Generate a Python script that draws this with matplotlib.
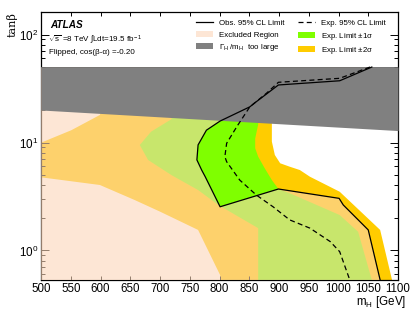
import matplotlib
matplotlib.use("Agg")
import matplotlib.pyplot as plt
from matplotlib.lines import Line2D
from matplotlib.patches import Patch
from matplotlib.ticker import LogLocator, FixedLocator

plt.rcParams['font.family'] = ['Liberation Sans', 'DejaVu Sans']
plt.rcParams['mathtext.fontset'] = 'custom'
plt.rcParams['mathtext.rm'] = 'Liberation Sans'
plt.rcParams['mathtext.it'] = 'Liberation Sans:italic'
plt.rcParams['mathtext.bf'] = 'Liberation Sans:bold'

# ---------------- data ----------------
obs_mh = [1056, 1002, 899, 862, 851, 801, 778, 764, 762, 770, 776, 801, 899, 1001, 1008, 1050, 1070]
obs_tb = [50, 37.3, 34.1, 23.9, 21.4, 15.8, 13.0, 9.5, 6.9, 5.56, 4.82, 2.54, 3.71, 3.04, 2.64, 1.55, 0.533]

exp_mh = [1053, 1002, 899, 879, 851, 829, 812, 809, 812, 834, 862, 890, 918, 952, 986, 1002, 1019]
exp_tb = [50, 39.3, 36.1, 28.6, 21.4, 14.0, 9.83, 7.39, 6.64, 4.49, 3.26, 2.54, 1.92, 1.61, 1.21, 0.975, 0.533]

band2_mh = [500, 551, 599, 610, 888, 888, 888, 893, 902, 918, 935, 952, 1002, 1070, 1090,
            802, 801, 764, 700, 657, 599, 500]
band2_tb = [9.96, 13.0, 18.0, 30, 30, 14.7, 10.2, 7.66, 6.42, 5.97, 5.56, 4.82, 3.50, 1.55, 0.533,
            0.533, 0.593, 1.55, 2.29, 2.94, 4.04, 4.76]

band1_mh = [719, 730, 865, 865, 860, 860, 865, 876, 888, 899, 918, 1002, 1033, 1056,
            865, 865, 798, 764, 719, 680, 666, 685]
band1_tb = [16.4, 30, 30, 14.7, 10.9, 8.84, 7.39, 5.77, 4.49, 3.71, 3.39, 2.13, 1.49, 0.533,
            0.533, 1.61, 2.64, 3.63, 5.0, 6.89, 9.48, 12.6]

gray_mh = [500, 1100]
gray_lo = [20.0, 12.9]
gray_hi = [50, 50]

x_ticks = list(range(500, 1101, 50))

excl_left_mh = [500, 500]
excl_left_tb = [0.533, 50]

# ---------------- style ----------------
c_yellow = '#FFCC00'
c_green = '#7FFF00'
c_excl = '#FCD6B9'
a_excl = 0.59
c_gray = '#808080'

fig = plt.figure(figsize=(4.15, 3.12), dpi=100)
ax = fig.add_axes([41/415, 32/312, 357/415, 267.7/312])

ax.fill(band2_mh, band2_tb, color=c_yellow, lw=0, zorder=1)
ax.fill(band1_mh, band1_tb, color=c_green, lw=0, zorder=2)
ax.fill(excl_left_mh + obs_mh, excl_left_tb + obs_tb, color=c_excl, alpha=a_excl, lw=0, zorder=3)
ax.fill_between(gray_mh, gray_lo, gray_hi, color=c_gray, lw=0, zorder=4)
ax.plot(gray_mh, gray_hi, color='#6a6a6a', lw=0.6, zorder=4)
ax.plot(obs_mh, obs_tb, color='black', lw=0.9, zorder=6)
ax.plot(exp_mh, exp_tb, color='black', lw=0.9, ls=(0, (4, 2.6)), zorder=6)

ax.set_yscale('log')
ax.set_xlim(500, 1100)
ax.set_ylim(0.533, 160.6)
ax.xaxis.set_major_locator(FixedLocator(x_ticks))
ax.set_xticklabels([str(v) for v in x_ticks])
ax.yaxis.set_major_locator(LogLocator(base=10))
ax.yaxis.set_minor_locator(LogLocator(base=10, subs=range(2, 10)))
ax.tick_params(axis='both', which='both', direction='in', top=True, right=True, width=0.7)
ax.tick_params(axis='x', which='major', length=3, labelsize=8.3, pad=2)
ax.tick_params(axis='y', which='major', length=5.5, labelsize=8.4, pad=2)
ax.tick_params(axis='y', which='minor', length=2.8)
ax.yaxis.set_minor_formatter(matplotlib.ticker.NullFormatter())
for s in ax.spines.values():
    s.set_linewidth(0.9)

# labels
fig.text(406/415, 1 - 301.5/312, r'm$_{\rm H}$ [GeV]', ha='right', va='center', fontsize=8.4)
fig.text(12/415, 1 - 25/312, 'tanβ', rotation=90, ha='center', va='center', fontsize=8,
         family=['DejaVu Serif', 'DejaVu Sans'])

fig.text(50/415, 1 - 25/312, 'ATLAS', fontsize=7.2, fontweight='bold', style='italic',
         ha='left', va='center')
fig.text(48/415, 1 - 40/312, r'$\sqrt{\rm s}$ =8 TeV $\int$Ldt=19.5 fb$^{\rm -1}$', fontsize=5.8,
         ha='left', va='center')
fig.text(49/415, 1 - 52.5/312, 'Flipped, cos(β-α) =-0.20', fontsize=5.8, ha='left', va='center')

handles = [
    Line2D([], [], color='black', lw=0.9),
    Patch(facecolor=c_excl, alpha=a_excl, lw=0),
    Patch(facecolor=c_gray, lw=0),
    Line2D([], [], color='black', lw=0.9, ls=(0, (4, 2.6))),
    Patch(facecolor=c_green, lw=0),
    Patch(facecolor=c_yellow, lw=0),
]
labels = [
    'Obs. 95% CL Limit',
    'Excluded Region',
    r'$\Gamma_{\rm H}$ /m$_{\rm H}$  too large',
    'Exp. 95% CL Limit',
    r'Exp. Limit $\pm$1σ',
    r'Exp. Limit $\pm$2σ',
]
leg = ax.legend(handles, labels, ncol=2, loc='upper left',
                bbox_to_anchor=((196 - 41) / 357, (280 - 19.5) / 267.7),
                frameon=False, fontsize=5.7, handlelength=2.15, handleheight=0.85,
                handletextpad=0.75, columnspacing=1.75, labelspacing=0.42,
                borderpad=0, borderaxespad=0)
leg.set_zorder(10)

fig.savefig('out.png', dpi=100)
